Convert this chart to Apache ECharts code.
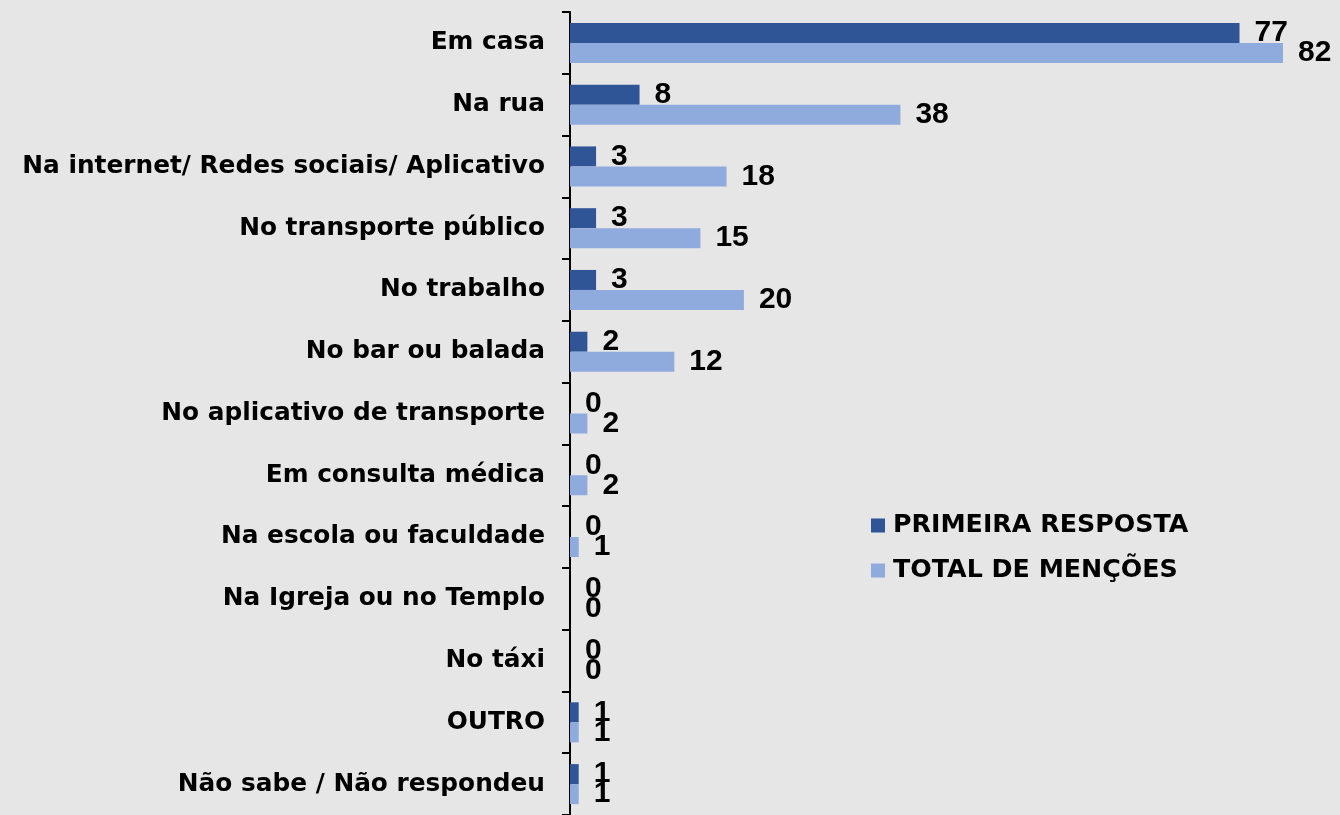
<!DOCTYPE html>
<html>
<head>
<meta charset="utf-8">
<script src="https://cdn.jsdelivr.net/npm/echarts@6/dist/echarts.min.js"></script>
<style>
html,body{margin:0;padding:0;background:#E7E6E6;}
#chart{width:1340px;height:815px;}
</style>
</head>
<body>
<div id="chart"></div>
<script>
const categories = [
  'Em casa',
  'Na rua',
  'Na internet/ Redes sociais/ Aplicativo',
  'No transporte público',
  'No trabalho',
  'No bar ou balada',
  'No aplicativo de transporte',
  'Em consulta médica',
  'Na escola ou faculdade',
  'Na Igreja ou no Templo',
  'No táxi',
  'OUTRO',
  'Não sabe / Não respondeu'
];
const primeiraResposta = [77, 8, 3, 3, 3, 2, 0, 0, 0, 0, 0, 1, 1];
const totalMencoes = [82, 38, 18, 15, 20, 12, 2, 2, 1, 0, 0, 1, 1];
const seriesNames = ['PRIMEIRA RESPOSTA', 'TOTAL DE MENÇÕES'];

const chart = echarts.init(document.getElementById('chart'));
const valueLabel = {
  show: true,
  position: 'right',
  distance: 15,
  color: '#000',
  fontFamily: 'Liberation Sans, Arial, sans-serif',
  fontWeight: 'bold',
  fontSize: 30
};
chart.setOption({
  backgroundColor: '#E7E6E6',
  animation: false,
  grid: { left: 570, top: 12, bottom: -3, right: 57, containLabel: false },
  legend: {
    orient: 'vertical',
    left: 866,
    top: 508,
    itemWidth: 14,
    itemHeight: 14,
    itemGap: 20,
    icon: 'rect',
    textStyle: {
      fontFamily: 'DejaVu Sans, sans-serif',
      fontWeight: 'bold',
      fontSize: 25.3,
      color: '#000',
      padding: [0, 0, 0, 3]
    },
    data: seriesNames
  },
  xAxis: {
    type: 'value',
    min: 0,
    max: 82,
    show: false
  },
  yAxis: {
    type: 'category',
    inverse: true,
    data: categories,
    axisLine: { show: true, lineStyle: { color: '#000', width: 2 } },
    axisTick: { show: true, length: 8, lineStyle: { color: '#000', width: 2 } },
    axisLabel: {
      margin: 25,
      color: '#000',
      fontFamily: 'DejaVu Sans, sans-serif',
      fontWeight: 'bold',
      fontSize: 24.8
    },
    splitLine: { show: false }
  },
  series: [
    {
      name: seriesNames[0],
      type: 'bar',
      data: primeiraResposta,
      barWidth: 20,
      barGap: '0%',
      itemStyle: { color: '#2F5597' },
      label: valueLabel
    },
    {
      name: seriesNames[1],
      type: 'bar',
      data: totalMencoes,
      barWidth: 20,
      barGap: '0%',
      itemStyle: { color: '#8FAADC' },
      label: valueLabel
    }
  ]
});
</script>
</body>
</html>
